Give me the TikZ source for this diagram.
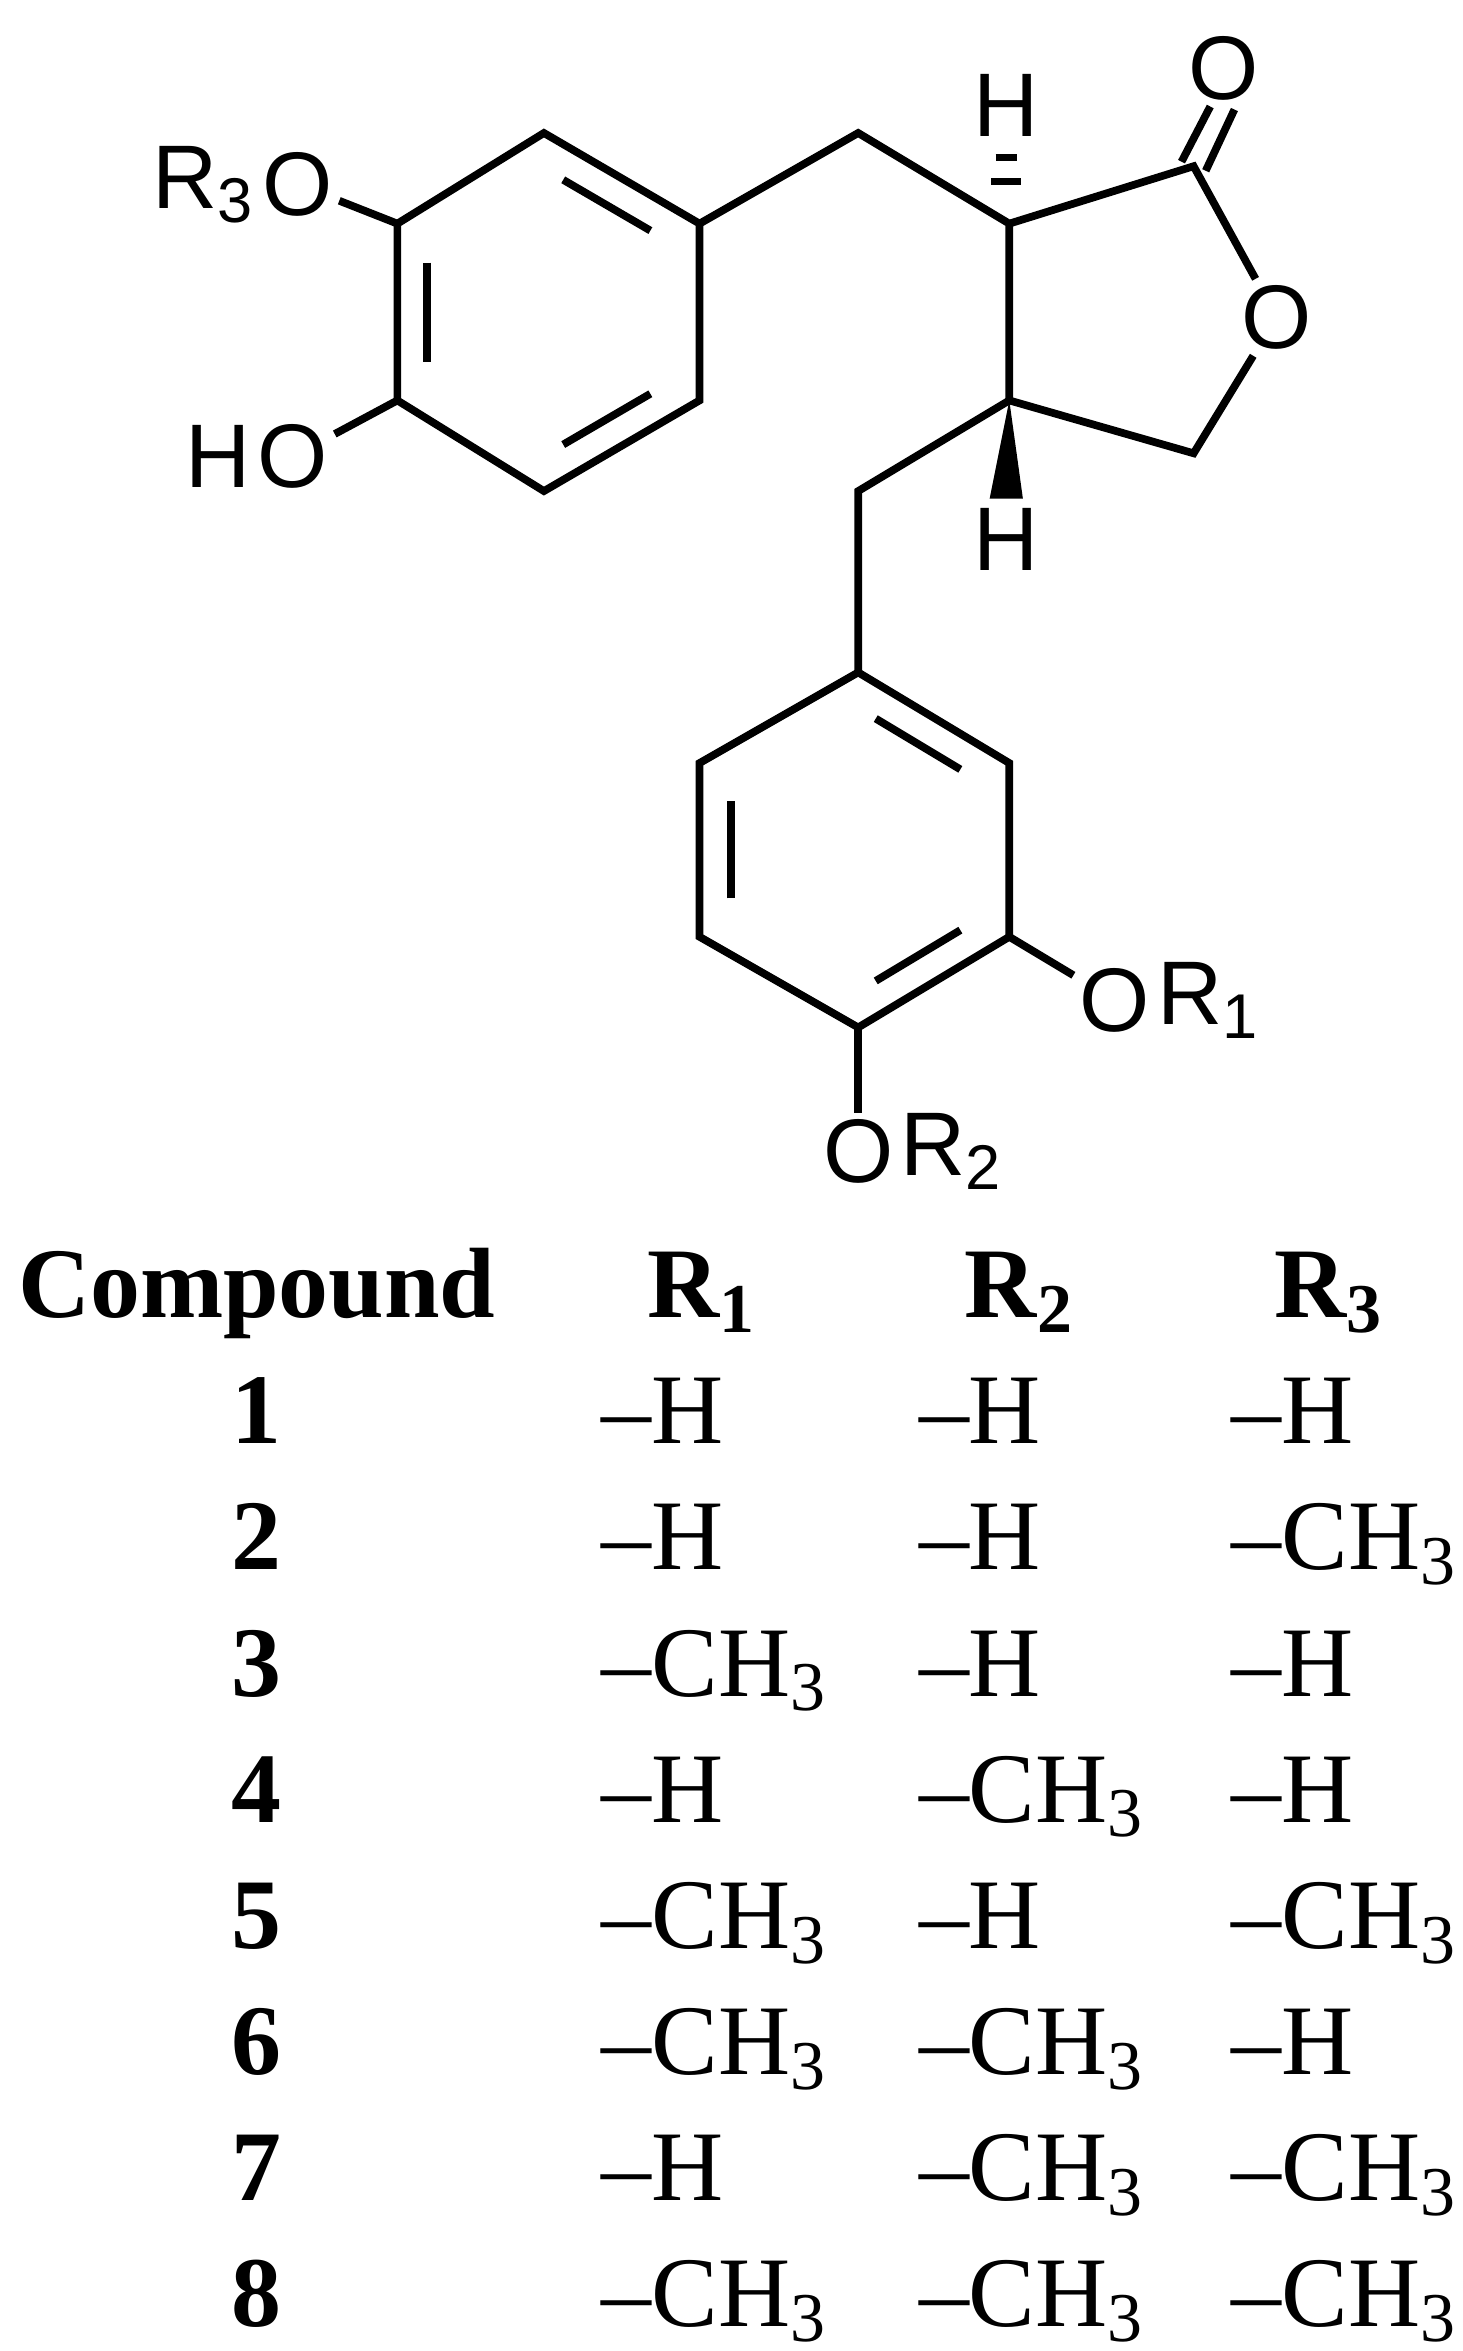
\documentclass[tikz,border=0pt]{standalone}
\usepackage{fontspec}
\setmainfont{Liberation Serif}
\newfontfamily\atomfont{Liberation Sans}
\usetikzlibrary{calc,positioning}
\newcommand\mth{CH\textsubscript{3}}
\begin{document}
\begin{tikzpicture}[x=0.01cm,y=-0.01cm,line width=1.45pt,
  atom/.style={inner sep=0.5pt,font=\atomfont\fontsize{17}{19}\selectfont},
  cell/.style={anchor=base west,font=\fontsize{18.8}{22}\selectfont},
  head/.style={anchor=base,font=\bfseries\fontsize{18.8}{22}\selectfont}]
\useasboundingbox (0,0) rectangle (968,1556);
% top ring
\coordinate (a1) at (263,148); \coordinate (a2) at (360,88);
\coordinate (a3) at (463,148); \coordinate (a4) at (463,265);
\coordinate (a5) at (360,325); \coordinate (a6) at (263,265);
\coordinate (ca) at (362,207);
% lower ring
\coordinate (b1) at (568,445); \coordinate (b2) at (668,505);
\coordinate (b3) at (668,620); \coordinate (b4) at (568,680);
\coordinate (b5) at (463,620); \coordinate (b6) at (463,505);
\coordinate (cb) at (566,562);
% lactone and linkers
\coordinate (m1) at (568,88); \coordinate (c3) at (668,148);
\coordinate (c2) at (790,110); \coordinate (c5) at (790,300);
\coordinate (c4) at (668,265); \coordinate (m2) at (568,325);
% atom labels
\node[atom] (oR3) at (197,122) {O};
\node[atom,anchor=east,inner sep=0pt] (r3) at ($(oR3.west)+(2,0)$) {R\textsubscript{3}};
\node[atom] (oH) at (194,302) {O};
\node[atom,anchor=east,inner sep=0pt] (hO) at ($(oH.west)+(2,0)$) {H};
\node[atom] (oR1) at (738,662) {O};
\node[atom,anchor=west,inner sep=0pt] (r1) at ($(oR1.east)+(-2,0)$) {R\textsubscript{1}};
\node[atom] (oR2) at (568,762) {O};
\node[atom,anchor=west,inner sep=0pt] (r2) at ($(oR2.east)+(-2,0)$) {R\textsubscript{2}};
\node[atom] (oRing) at (845,210) {O};
\node[atom] (oCO) at (810,45) {O};
\node[atom] (hTop) at (666,70) {H};
\node[atom] (hBot) at (666,357) {H};
% bonds
\draw (a1) -- (a2) -- (a3) -- (a4) -- (a5) -- (a6) -- cycle;
\draw (b1) -- (b2) -- (b3) -- (b4) -- (b5) -- (b6) -- cycle;
\foreach \p/\q in {a1/a6,a2/a3,a4/a5}
  \draw ($($(\p)!0.15!(\q)$)!0.2!(ca)$) -- ($($(\q)!0.15!(\p)$)!0.2!(ca)$);
\foreach \p/\q in {b1/b2,b3/b4,b5/b6}
  \draw ($($(\p)!0.15!(\q)$)!0.2!(cb)$) -- ($($(\q)!0.15!(\p)$)!0.2!(cb)$);
\draw (a1) -- (oR3); \draw (a6) -- (oH);
\draw (b3) -- (oR1); \draw (b4) -- (oR2);
\draw (a3) -- (m1) -- (c3) -- (c2) -- (oRing) -- (c5) -- (c4) -- (c3);
\draw (c4) -- (m2) -- (b1);
\draw ($(c2)+(-8,-3)$) -- ($(oCO.south)+(-9,0)$);
\draw ($(c2)+(8,3)$) -- ($(oCO.south)+(7,2)$);
% stereo bonds
\draw[line width=1.3pt] (656,120) -- (676,120);
\draw[line width=1.3pt] (659,104) -- (673,104);
\fill (c4) -- (677,330) -- (655,330) -- cycle;
% table
\node[head] (hC) at (170,872) {Compound};
\node[head] (h1) at (465,872) {R\textsubscript{1}};
\node[head] (h2) at (675,872) {R\textsubscript{2}};
\node[head] (h3) at (880,872) {R\textsubscript{3}};
\foreach \n/\u/\v/\w [count=\i] in {
  1/H/H/H, 2/H/H/\mth, 3/\mth/H/H, 4/H/\mth/H,
  5/\mth/H/\mth, 6/\mth/\mth/H, 7/H/\mth/\mth, 8/\mth/\mth/\mth} {
  \pgfmathsetmacro\yy{872+83.5*\i}
  \node[head] (n\i) at (170,\yy) {\n};
  \node[cell] (u\i) at (384,\yy) {–\u};
  \node[cell] (v\i) at (594,\yy) {–\v};
  \node[cell] (w\i) at (801,\yy) {–\w};
}
\end{tikzpicture}
\end{document}
